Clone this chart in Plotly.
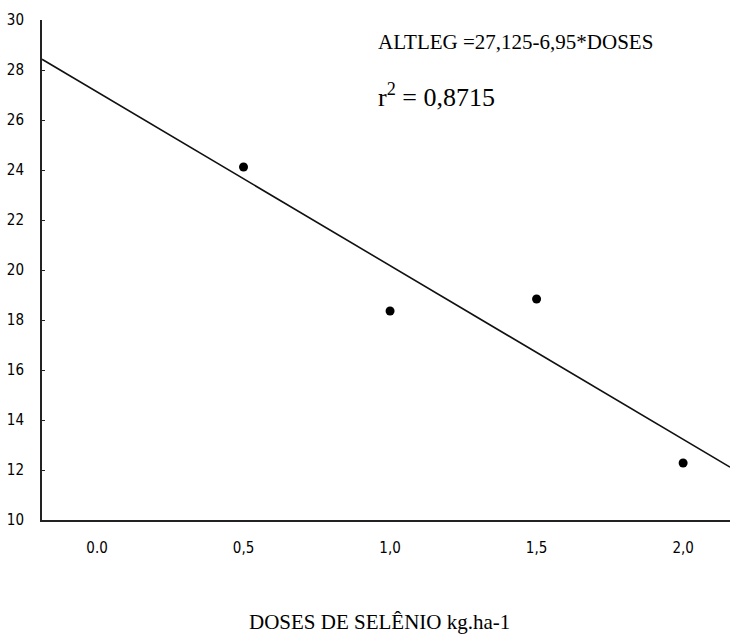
import plotly.graph_objects as go

# Data
doses = [0.5, 1.0, 1.5, 2.0]
altleg = [24.12, 18.36, 18.84, 12.28]

# Regression shown on the chart
intercept = 27.125
slope = -6.95
line_x = [-0.1877, 2.16]
line_y = [intercept + slope * v for v in line_x]

x_tickvals = [0.0, 0.5, 1.0, 1.5, 2.0]
x_ticktext = ["0.0", "0,5", "1,0", "1,5", "2,0"]
y_tickvals = [10, 12, 14, 16, 18, 20, 22, 24, 26, 28, 30]

tick_font = dict(family="Liberation Sans Narrow, DejaVu Sans Condensed, Arial Narrow, sans-serif",
                 size=15, color="#000")
serif = "Liberation Serif, Times New Roman, serif"

fig = go.Figure()
fig.add_trace(go.Scatter(x=line_x, y=line_y, mode="lines",
                         line=dict(color="#111", width=1.6), showlegend=False, hoverinfo="skip"))
fig.add_trace(go.Scatter(x=doses, y=altleg, mode="markers",
                         marker=dict(color="#000", size=9, symbol="circle"), showlegend=False))

fig.update_layout(
    width=730, height=634,
    margin=dict(l=42, r=0, t=20, b=114),
    paper_bgcolor="white", plot_bgcolor="white",
    xaxis=dict(range=[-0.1877, 2.16], tickvals=x_tickvals, ticktext=x_ticktext,
               showgrid=False, zeroline=False, showline=True, linecolor="#222", linewidth=2,
               ticks="", tickfont=tick_font, ticklabelstandoff=13),
    yaxis=dict(range=[10, 30], tickvals=y_tickvals, showgrid=False, zeroline=False,
               showline=True, linecolor="#222", linewidth=2, ticks="inside", ticklen=3,
               tickcolor="#222", tickwidth=1, tickfont=tick_font, ticklabelstandoff=13),
    annotations=[
        dict(x=0.485, y=0.956, xref="paper", yref="paper", xanchor="left", yanchor="middle",
             text="ALTLEG =27,125-6,95*DOSES", showarrow=False,
             font=dict(family=serif, size=21, color="#000")),
        dict(x=0.485, y=0.85, xref="paper", yref="paper", xanchor="left", yanchor="middle",
             text="r<sup>2</sup> = 0,8715", showarrow=False,
             font=dict(family=serif, size=26, color="#000")),
        dict(x=0.49, y=-0.204, xref="paper", yref="paper", xanchor="center", yanchor="middle",
             text="DOSES DE SELÊNIO kg.ha-1", showarrow=False,
             font=dict(family=serif, size=21, color="#000")),
    ],
)

fig.write_html("out.html", config={"displayModeBar": False},
               post_script="document.body.style.margin='0';document.body.style.overflow='hidden';")
